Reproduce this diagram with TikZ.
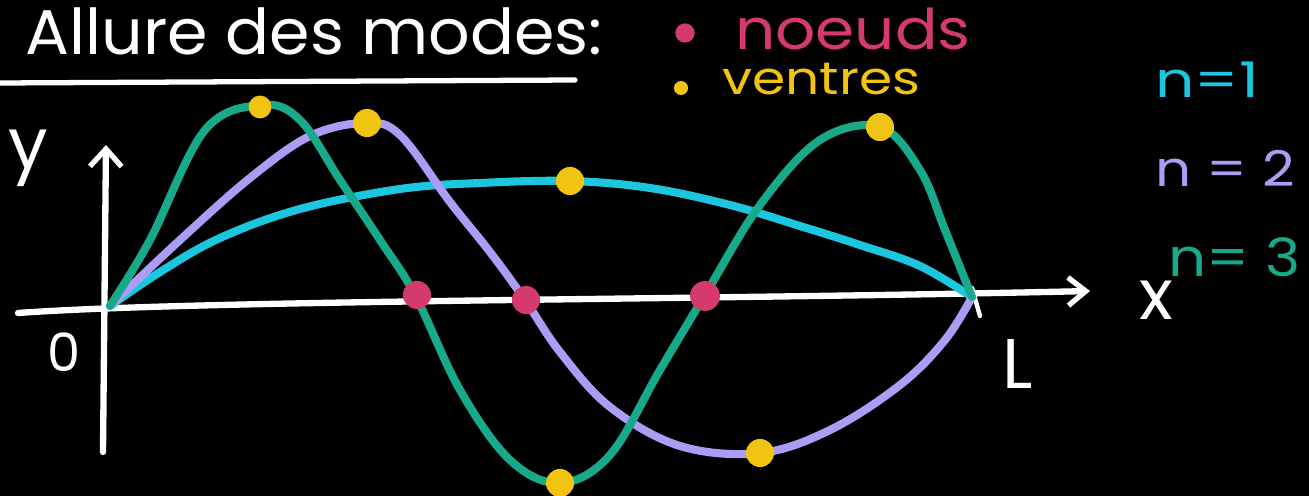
\documentclass[tikz,border=0pt]{standalone}
\usepackage{fontspec}
\usepackage{graphicx}
\setmainfont{Poppins}
\usetikzlibrary{arrows.meta}
\definecolor{cmone}{HTML}{1CC6DE}
\definecolor{cmtwo}{HTML}{AB9CF6}
\definecolor{cmthree}{HTML}{18A98A}
\definecolor{cnoeud}{HTML}{D43A6C}
\definecolor{cventre}{HTML}{F2C412}
\newcommand{\wider}[2]{\scalebox{#1}[1]{#2}}
\tikzset{
  axisline/.style={white, line width=3.6pt, line cap=round, line join=round},
  curve/.style={line width=4.6pt, line cap=round, line join=round},
  noeud/.style={circle, fill=cnoeud, inner sep=0pt, minimum size=16pt},
  ventre/.style={circle, fill=cventre, inner sep=0pt, minimum size=16pt},
  lbl/.style={inner sep=0pt, font=\fontsize{28}{30}\selectfont},
}
\begin{document}
\begin{tikzpicture}[x=0.02cm, y=-0.02cm]
\fill[black] (0,0) rectangle (1309,496);
\useasboundingbox (0,0) rectangle (1309,496);
% title
\node[anchor=base east, white, inner sep=0pt, font=\fontsize{36}{38}\selectfont] (title) at (603,55) {\wider{1.03}{Allure des modes:}};
\coordinate (ulA) at (0,83);
\coordinate (ulB) at (575,80);
\draw[white, line width=3pt, line cap=round] (ulA) -- (ulB);
% legend
\node[noeud, minimum size=11pt] (bn) at (685,33) {};
\node[anchor=base west, cnoeud, inner sep=0pt, font=\fontsize{32}{34}\selectfont] (tn) at (735,50) {\wider{1.12}{noeuds}};
\node[ventre, minimum size=8pt] (bv) at (681,88) {};
\node[anchor=base west, cventre, inner sep=0pt, font=\fontsize{26}{28}\selectfont] (tv) at (722,95) {\wider{1.17}{ventres}};
\node[anchor=base west, cmone, lbl] (l1) at (1155,98) {\wider{1.25}{n=1}};
\node[anchor=base west, cmtwo, lbl] (l2) at (1155,187) {\wider{1.15}{n = 2}};
\node[anchor=base west, cmthree, lbl, font=\fontsize{30}{32}\selectfont] (l3) at (1168,277) {\wider{1.13}{n= 3}};
% axes
\coordinate (O) at (110,306);
\coordinate (xs) at (18,313);
\coordinate (xe) at (1090,291);
\coordinate (ys) at (103,452);
\coordinate (ye) at (106,145);
\draw[axisline, -{Straight Barb[length=10pt, width=16pt, line width=3pt]}] (xs) .. controls (200,300) and (700,300) .. (xe);
\draw[axisline, -{Straight Barb[length=10pt, width=18pt, line width=3pt]}] (ys) -- (ye);
\coordinate (tk1) at (972,288);
\coordinate (tk2) at (980,316);
\draw[axisline, line width=2.5pt] (tk1) -- (tk2);
\node[white, inner sep=0pt, font=\fontsize{40}{42}\selectfont] (ylab) at (28,158) {y};
\node[white, inner sep=0pt, font=\fontsize{30}{32}\selectfont] (zero) at (64,352) {0};
\node[white, inner sep=0pt, font=\fontsize{40}{42}\selectfont] (xlab) at (1156,300) {x};
\node[white, inner sep=0pt, font=\fontsize{40}{42}\selectfont] (Llab) at (1018,364) {L};
% curves
\draw[curve, cmone] plot[smooth, tension=0.6] coordinates {(110,306) (160,272) (220,238) (300,209) (400,189) (480,183) (570,181) (650,188) (730,205) (800,226) (860,245) (920,266) (972,297)};
\draw[curve, cmtwo] plot[smooth, tension=0.6] coordinates {(110,306) (180,240) (250,178) (310,136) (365,123) (400,135) (450,202) (490,252) (525,300) (560,352) (610,407) (680,446) (760,453) (830,430) (900,385) (945,340) (972,297)};
\draw[curve, cmthree] plot[smooth, tension=0.6] coordinates {(110,306) (150,240) (205,130) (262,105) (300,120) (340,180) (380,240) (415,295) (460,390) (510,460) (560,483) (610,455) (660,370) (705,295) (760,205) (820,140) (880,127) (920,170) (945,230) (972,297)};
% noeuds
\node[noeud] (n1) at (417,295) {};
\node[noeud] (n2) at (526,300) {};
\node[noeud, minimum size=17pt] (n3) at (705,296) {};
% ventres
\node[ventre, minimum size=13pt] (v1) at (260,107) {};
\node[ventre] (v2) at (367,123) {};
\node[ventre] (v3) at (570,181) {};
\node[ventre] (v4) at (880,127) {};
\node[ventre] (v5) at (560,483) {};
\node[ventre] (v6) at (760,453) {};
\end{tikzpicture}
\end{document}
